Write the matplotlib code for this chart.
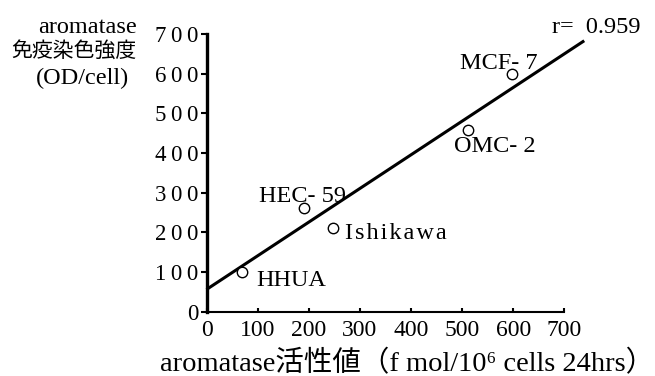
import numpy as np
import matplotlib
matplotlib.use("Agg")
import matplotlib.pyplot as plt
from matplotlib.ticker import FuncFormatter

plt.rcParams['font.family'] = ['Liberation Serif', 'Noto Sans CJK JP', 'DejaVu Sans']

# cell lines: aromatase activity vs immunostaining intensity
cells = ['HHUA', 'HEC- 59', 'Ishikawa', 'OMC- 2', 'MCF- 7']
activity = [69, 191, 248, 512, 597]
intensity = [99, 261, 211, 458, 599]

# regression line as drawn in the figure
fit_x = [0, 739]
fit_y = [56, 683]
r_text = 'r=  0.959'

ticks = [0, 100, 200, 300, 400, 500, 600, 700]

# label baselines (data coords) and alignment per cell line
label_x = [165, 188, 271, 565, 572]
label_y = [65, 277, 182, 403, 613]
label_ha = ['center', 'center', 'left', 'center', 'center']

W, H = 655, 376
fig = plt.figure(figsize=(W / 100, H / 100), dpi=100)
ax = fig.add_axes([206.5 / W, (H - 311.7) / H, 357.8 / W, 277.7 / H])

ax.plot(fit_x, fit_y, color='black', lw=2.2, clip_on=False, solid_capstyle='butt')
ax.plot(activity, intensity, 'o', ms=7.5, mfc='white', mec='black', mew=1.0,
        clip_on=False, zorder=3)

for name, lx, ly, ha in zip(cells, label_x, label_y, label_ha):
    txt = '\u200a'.join(name) if name == 'Ishikawa' else name
    ax.text(lx, ly, txt, ha=ha, va='baseline', fontsize=17.5)

ax.text(676, 702, r_text, ha='left', va='baseline', fontsize=17.5, clip_on=False)

ax.set_xlim(0, 700)
ax.set_ylim(0, 700)
ax.set_xticks(ticks)
ax.set_yticks(ticks)
ax.xaxis.set_major_formatter(FuncFormatter(lambda v, p: '%d' % v))
ax.yaxis.set_major_formatter(FuncFormatter(lambda v, p: '\u2009'.join('%d' % v)))

ax.spines['top'].set_visible(False)
ax.spines['right'].set_visible(False)
ax.spines['left'].set_linewidth(2.4)
ax.spines['bottom'].set_linewidth(1.5)
ax.tick_params(axis='y', direction='out', length=4.5, width=1.5, pad=1.5, labelsize=16.5)
ax.tick_params(axis='x', direction='in', length=3, width=1.5, pad=6, labelsize=17)

# y-axis title, three lines
fig.text(137 / W, 1 - 33 / H, 'aromatase', ha='right', va='baseline', fontsize=17.5)
fig.text(137 / W, 1 - 52 / H, '免疫染色強度', ha='right', va='center', fontsize=15)
fig.text(129 / W, 1 - 78 / H, '(OD/cell)', ha='right', va='center', fontsize=17.5)

# x-axis title
fig.text(160 / W, 1 - 371 / H, 'aromatase活性値（f mol/10\u2076 cells 24hrs）',
         ha='left', va='baseline', fontsize=20.5)

fig.savefig('out.png', dpi=100)
